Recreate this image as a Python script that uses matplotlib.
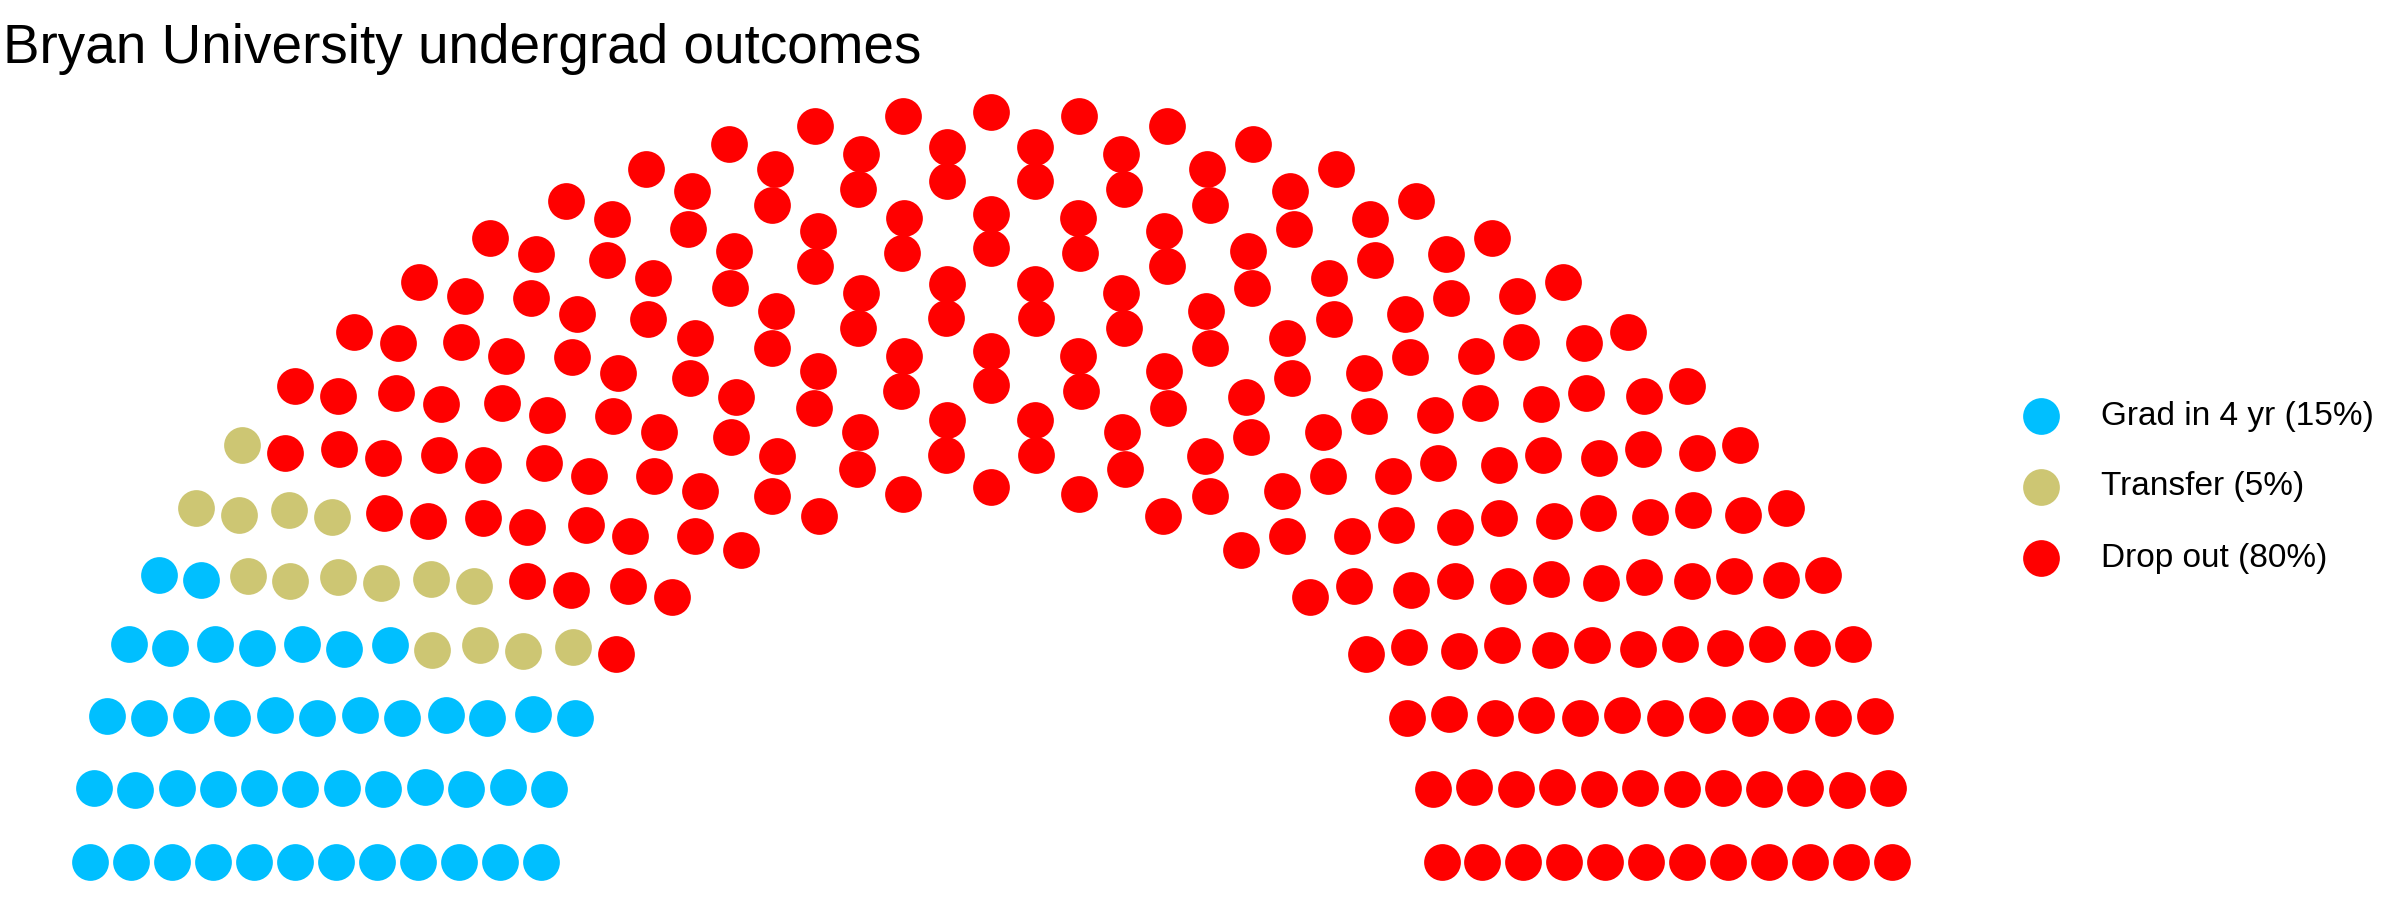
import numpy as np
import matplotlib
matplotlib.use("Agg")
import matplotlib.pyplot as plt

# data
parties = ["Grad in 4 yr (15%)", "Transfer (5%)", "Drop out (80%)"]
seats = [45, 15, 240]
colors = ["#00BFFF", "#CDC673", "#FF0000"]
n_rows = 12

plt.rcParams['font.family'] = ['Liberation Sans', 'DejaVu Sans']


# semicircle layout, same rule as ggparliament
def parliament_coords(N, M, r0, r1):
    radii = np.linspace(r0, r1, M)
    xs, ys, rows, thetas = [], [], [], []
    left = N
    for i in range(M):
        cnt = int(np.round(left * radii[i] / radii[i:].sum()))
        th = np.linspace(0, np.pi, cnt)
        left -= cnt
        xs += list(radii[i] * np.cos(th))
        ys += list(radii[i] * np.sin(th))
        rows += [i] * cnt
        thetas += list(th)
    xs, ys, rows, thetas = map(np.array, (xs, ys, rows, thetas))
    order = np.lexsort((-rows, -np.round(thetas, 9)))
    return xs[order], ys[order]


x, y = parliament_coords(sum(seats), n_rows, n_rows, 2 * n_rows)
party_idx = np.repeat(np.arange(len(seats)), seats)

fig = plt.figure(figsize=(24, 9), dpi=100)
ax = fig.add_axes([90 / 2400, 38 / 900, 1802 / 2400, 750 / 900])
for k, name in enumerate(parties):
    m = party_idx == k
    ax.scatter(x[m], y[m], s=700, color=colors[k], linewidths=0,
               label=name, clip_on=False)
ax.set_xlim(-24, 24)
ax.set_ylim(0, 24)
ax.axis("off")

fig.text(3 / 2400, 1 - 63 / 900, "Bryan University undergrad outcomes",
         fontsize=39.5, ha="left", va="baseline")

fig.legend(loc="center left", bbox_to_anchor=(2008 / 2400, 1 - 487 / 900),
           frameon=False, fontsize=24, scatterpoints=1, handlelength=2.0,
           handletextpad=0.8, labelspacing=1.2, borderpad=0, borderaxespad=0)

fig.savefig("out.png", dpi=100, facecolor="white")
